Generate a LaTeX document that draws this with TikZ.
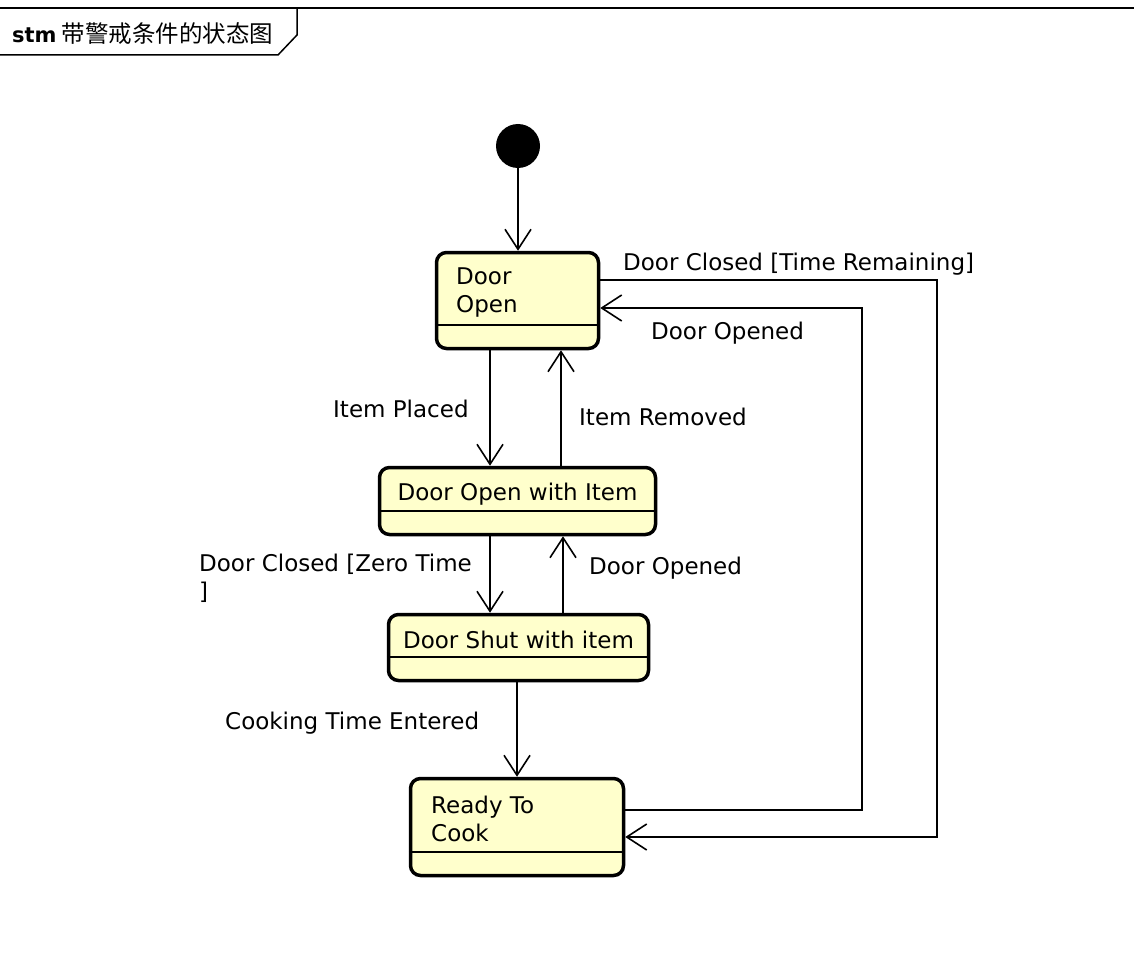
\documentclass[tikz,border=0pt]{standalone}
\usepackage{fontspec}
\setmainfont{DejaVu Sans}
\newfontfamily\cjk{Noto Sans CJK SC}
\usetikzlibrary{arrows.meta}
\definecolor{stfill}{RGB}{255,255,204}
\begin{document}
\begin{tikzpicture}[x=1pt,y=-1pt,
  stbox/.style={draw, line width=3.5pt, fill=stfill, rounded corners=10pt, inner sep=0pt},
  divl/.style={line width=1.8pt},
  txt/.style={font=\fontsize{23}{28}\selectfont, inner sep=0pt, align=left},
  lbl/.style={txt, anchor=west},
  arr/.style={line width=1.6pt, -{Straight Barb[length=20pt,width=26pt,line width=1.6pt]}},
  framel/.style={line width=1.5pt}]
\useasboundingbox (0,0) rectangle (1134,960);
% frame
\draw[line width=2pt] (0,8) -- (1134,8);
\coordinate (t1) at (297,8);
\coordinate (t2) at (297,35);
\coordinate (t3) at (278,55);
\coordinate (t4) at (0,55);
\draw[framel] (t1) -- (t2) -- (t3) -- (t4);
\node[txt, anchor=west] (title) at (12,34) {{\fontsize{21}{24}\selectfont\bfseries stm}\hspace{5pt}{\cjk\fontsize{23.5}{26}\selectfont 带警戒条件的状态图}};
% initial
\node[circle, fill=black, minimum size=44pt, inner sep=0pt] (init) at (518,146) {};
% states
\node[stbox, minimum width=162pt, minimum height=96pt] (do) at (517.5,300.5) {};
\node[stbox, minimum width=276pt, minimum height=67pt] (dowi) at (517.5,501) {};
\node[stbox, minimum width=260pt, minimum height=66pt] (dswi) at (518.5,647.5) {};
\node[stbox, minimum width=213pt, minimum height=97pt] (rtc) at (517,827) {};
\foreach \n in {do,dowi,dswi,rtc}
  \draw[divl] ([yshift=25pt]\n.south west) -- ([yshift=25pt]\n.south east);
% state texts
\node[lbl] (dot) at (456,293) {Door\\Open};
\node[txt] (dowit) at (517.5,494) {Door Open with Item};
\node[txt] (dswit) at (518.5,640) {Door Shut with item};
\node[lbl] (rtct) at (431,819) {Ready To\\Cook};
% connector x positions
\coordinate (xa) at (490,0);
\coordinate (xb) at (561,0);
\coordinate (xc) at (563,0);
\coordinate (xd) at (517,0);
\draw[arr] (init.south) -- (init.south |- do.north);
\draw[arr] (do.south -| xa) -- (dowi.north -| xa);
\draw[arr] (dowi.north -| xb) -- (do.south -| xb);
\draw[arr] (dowi.south -| xa) -- (dswi.north -| xa);
\draw[arr] (dswi.north -| xc) -- (dowi.south -| xc);
\draw[arr] (dswi.south -| xd) -- (rtc.north -| xd);
\coordinate (r1) at (862,810);
\coordinate (r2) at (862,308);
\draw[arr] (rtc.east |- r1) -- (r1) -- (r2) -- (do.east |- r2);
\coordinate (s1) at (937,280);
\coordinate (s2) at (937,837);
\draw[arr] (do.east |- s1) -- (s1) -- (s2) -- (rtc.east |- s2);
% labels
\node[lbl] (l1) at (333,409) {Item Placed};
\node[lbl] (l2) at (579,417) {Item Removed};
\node[lbl] (l3) at (199,578) {Door Closed [Zero Time\\]};
\node[lbl] (l4) at (589,568) {Door Opened};
\node[lbl] (l5) at (225,723) {Cooking Time Entered};
\node[lbl] (l6) at (623,264) {Door Closed [Time Remaining]};
\node[lbl] (l7) at (651,333) {Door Opened};
\end{tikzpicture}
\end{document}
